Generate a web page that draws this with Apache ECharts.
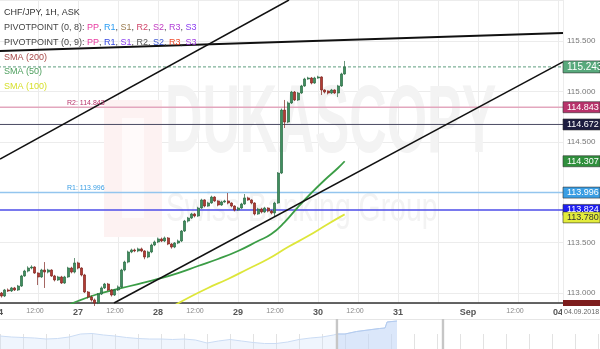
<!DOCTYPE html>
<html><head><meta charset="utf-8">
<script src="https://cdn.jsdelivr.net/npm/echarts@6/dist/echarts.min.js"></script>
<style>html,body{margin:0;padding:0;background:#fff}#c{width:600px;height:349px}</style>
</head><body><div id="c"></div>
<script>
// ---------- DATA ----------
// hourly candles, trading-hour index (0 = Fri 24 Aug 00:00, weekend removed)
const candleStartHour = 1;
// [open, close, low, high]
const candles = [
[113.000,112.970,112.955,113.010],[112.970,113.030,112.960,113.040],[113.030,113.020,113.010,113.045],
[113.020,113.050,113.010,113.060],[113.050,113.030,113.020,113.060],[113.030,113.069,113.020,113.080],
[113.069,113.169,113.060,113.180],[113.169,113.218,113.160,113.230],[113.218,113.248,113.205,113.265],
[113.248,113.258,113.235,113.275],[113.258,113.198,113.190,113.265],[113.198,113.159,113.079,113.205],
[113.159,113.228,113.150,113.240],[113.228,113.208,113.050,113.307],[113.208,113.228,113.195,113.240],
[113.228,113.169,113.160,113.235],[113.169,113.129,113.115,113.180],[113.129,113.159,113.120,113.170],
[113.159,113.099,113.090,113.170],[113.099,113.159,113.090,113.170],[113.159,113.248,113.150,113.260],
[113.248,113.208,113.195,113.260],[113.208,113.298,113.195,113.347],[113.298,113.248,113.235,113.310],
[113.248,113.179,113.165,113.255],[113.179,113.010,113.000,113.190],[113.010,112.960,112.945,113.020],
[112.960,112.931,112.915,112.975],[112.931,112.901,112.871,112.945],[112.901,112.990,112.890,113.000],
[112.990,113.050,112.980,113.065],[113.050,113.089,113.040,113.100],[113.089,113.030,113.020,113.100],
[113.030,112.980,112.965,113.040],[112.980,113.030,112.970,113.040],[113.030,113.060,113.020,113.075],
[113.060,113.228,113.050,113.240],[113.228,113.307,113.215,113.320],[113.307,113.407,113.295,113.420],
[113.407,113.427,113.395,113.440],[113.427,113.417,113.405,113.440],[113.417,113.437,113.405,113.450],
[113.437,113.417,113.405,113.450],[113.417,113.357,113.335,113.425],[113.357,113.407,113.345,113.420],
[113.407,113.476,113.395,113.490],[113.476,113.506,113.465,113.520],[113.506,113.536,113.495,113.550],
[113.536,113.516,113.505,113.550],[113.516,113.546,113.505,113.560],[113.546,113.486,113.475,113.555],
[113.486,113.456,113.440,113.495],[113.456,113.496,113.445,113.505],[113.496,113.516,113.485,113.530],
[113.516,113.615,113.505,113.625],[113.615,113.714,113.605,113.725],[113.714,113.744,113.700,113.755],
[113.744,113.784,113.735,113.795],[113.784,113.764,113.750,113.795],[113.764,113.843,113.755,113.855],
[113.843,113.923,113.835,113.935],[113.923,113.863,113.850,113.930],[113.863,113.893,113.855,113.905],
[113.893,113.952,113.885,113.965],[113.952,113.913,113.905,113.960],[113.913,113.873,113.860,113.920],
[113.873,113.903,113.865,113.915],[113.903,113.913,113.895,113.925],[113.913,113.893,113.880,113.992],
[113.893,113.863,113.850,113.900],[113.863,113.823,113.810,113.870],[113.823,113.843,113.815,113.855],
[113.843,113.883,113.835,113.895],[113.883,113.943,113.875,113.982],[113.943,113.923,113.915,113.955],
[113.923,113.893,113.880,113.930],[113.893,113.784,113.770,113.900],[113.784,113.833,113.775,113.845],
[113.833,113.804,113.790,113.845],[113.804,113.843,113.795,113.855],[113.843,113.813,113.800,113.850],
[113.813,113.794,113.780,113.825],[113.794,113.893,113.754,113.905],[113.893,114.190,113.885,114.200],
[114.190,114.815,114.180,114.830],[114.815,114.696,114.637,114.915],[114.696,114.885,114.685,114.900],
[114.885,114.994,114.875,115.005],[114.994,114.915,114.905,115.004],[114.915,114.984,114.905,114.995],
[114.984,115.054,114.975,115.065],[115.054,115.123,115.045,115.135],[115.123,115.133,115.115,115.145],
[115.133,115.083,115.070,115.143],[115.083,115.133,115.075,115.145],[115.133,115.143,115.125,115.155],
[115.143,115.014,114.964,115.150],[115.014,114.994,114.980,115.020],[115.004,114.984,114.970,115.010],
[114.984,115.014,114.975,115.025],[115.014,114.984,114.975,115.020],[114.984,115.054,114.944,115.065],
[115.054,115.173,115.045,115.185],[115.173,115.243,115.165,115.302]
];
// moving averages [hour, value]
const sma50 = [[20,112.860],[24,112.921],[30,112.990],[36,113.040],[42,113.089],[48,113.139],[54,113.198],
  [60,113.268],[66,113.337],[72,113.417],[78,113.516],[82,113.585],[86,113.704],[90,113.853],[94,113.992],
  [98,114.121],[102,114.240],[104,114.307]];
const sma100 = [[52,112.860],[57,112.950],[63,113.050],[69,113.139],[75,113.238],[81,113.337],[87,113.456],
  [93,113.565],[99,113.685],[104,113.780]];
const sma200Last = 112.880;
// drawn trend lines
const trendA = [[0.6,114.329],[87.3,115.907]];
const trendB = [[0,115.401],[169.5,115.579]];
const trendC = [[34.8,112.901],[169.5,115.292]];
// pivot levels
const levelValues = [114.843, 114.672, 113.996, 113.824];
const levelNames  = ['R2', '', 'R1', ''];
const levelLineColors = ['#e3a7be', '#4a4a62', '#93c5ee', '#4c4ce8'];
const levelBoxColors  = ['#b8336b', '#1d1d40', '#3a9ee4', '#1e1ef0'];
// x axis ticks
const xTicks = [0,12,24,36,48,60,72,84,96,108,120,141,156,168];
const xTickLabels = ['24','12:00','27','12:00','28','12:00','29','12:00','30','12:00','31','Sep','12:00','04'];
const dateLabel = '04.09.2018';
// navigator history [position, value]
const navData = [[0,113.233],[0.5,113.1],[1,113.033],[1.5,112.967],[2,112.833],[2.5,112.9],[3,113.1],[3.5,113.5],
  [4,113.567],[4.5,113.367],[5,113.233],[5.5,113.033],[6,112.9],[6.5,112.833],[7,112.833],[7.5,112.767],[8,112.833],
  [8.5,112.7],[9,112.3],[9.5,112.567],[10,112.767],[10.5,112.567],[11,112.367],[11.5,112.233],[12,112.233],
  [12.5,112.433],[13,112.767],[13.5,112.967],[14,113.1],[14.5,113.367],[14.65,113.5],[15,113.5],[15.5,113.833],
  [16,114.033],[16.5,114.233],[16.74,114.3],[16.83,115.1],[17.26,115.233]];
const navWindow = [14.65, 19.26];

// ---------- CHART ----------
const FONT = 'Liberation Sans, Arial, sans-serif';
const chart = echarts.init(document.getElementById('c'), null, {width:600, height:349});
const candleData = candles.map((c, i) => [candleStartHour + i, c[0], c[1], c[2], c[3]]);
const lastClose = candles[candles.length - 1][1];
const xMax = 169.5;

function hLine(v, color, width, type) {
  return {type:'line', xAxisIndex:0, yAxisIndex:0, data:[[0, v],[xMax, v]], symbol:'none', silent:true,
    lineStyle:{color:color, width:width, type:type || 'solid'}, z:3};
}
function tLine(d, width) {
  return {type:'line', xAxisIndex:0, yAxisIndex:0, data:d, symbol:'none', silent:true,
    lineStyle:{color:'#111', width:width}, z:6};
}

const series = [];
levelValues.forEach((v, i) => series.push(hLine(v, levelLineColors[i], i === 1 ? 1 : 1.5)));
series.push(hLine(lastClose, '#5f9f7f', 1, [3, 2]));
series.push({type:'candlestick', xAxisIndex:0, yAxisIndex:0, data:candleData, encode:{x:0, y:[1,2,3,4]},
  barWidth:2.5, z:5,
  itemStyle:{color:'#3f8f5f', color0:'#b23b33', borderColor:'#2b6a43', borderColor0:'#7e2520', borderWidth:0.7}});
series.push({type:'line', data:sma50, symbol:'none', smooth:true, lineStyle:{color:'#3b9d46', width:1.8}, z:4});
series.push({type:'line', data:sma100, symbol:'none', smooth:true, lineStyle:{color:'#dde63a', width:1.8}, z:4});
series.push(tLine(trendA, 1.5), tLine(trendB, 2), tLine(trendC, 1.5));
series.push({type:'line', xAxisIndex:1, yAxisIndex:1, data:navData, symbol:'none', silent:true,
  lineStyle:{color:'#cbdcf4', width:1}, areaStyle:{color:'rgba(205,222,248,0.45)'}, z:2});
series.push({type:'line', xAxisIndex:1, yAxisIndex:1, data:navData.filter(d => d[0] >= navWindow[0]), symbol:'none', silent:true,
  lineStyle:{color:'#b3cbef', width:1}, areaStyle:{color:'rgba(190,212,246,0.6)'}, z:3});

const option = {
  animation:false,
  backgroundColor:'#fff',
  grid:[{left:-2, right:37, top:0, bottom:46, outerBoundsMode:'none', containLabel:false},
        {left:0, right:0, top:319, height:30, outerBoundsMode:'none', containLabel:false}],
  xAxis:[
    {type:'value', gridIndex:0, min:0, max:xMax, interval:12,
     axisLine:{show:true, onZero:false, lineStyle:{color:'#333', width:1.5}},
     axisTick:{show:false},
     splitLine:{show:true, lineStyle:{color:'#ececec', width:1}},
     axisLabel:{show:true, margin:5, customValues:xTicks, showMinLabel:true, showMaxLabel:true,
       formatter:function(v){ const i = xTicks.indexOf(v); if (i < 0) return ''; const t = xTickLabels[i];
         return t === '12:00' ? '{h|' + t + '}' : '{d|' + t + '}'; },
       rich:{d:{fontFamily:FONT, fontWeight:'bold', fontSize:9, color:'#555'},
             h:{fontFamily:FONT, fontSize:7, color:'#888', padding:[0,6,0,0]}}}},
    {type:'value', gridIndex:1, min:0, max:600/23, interval:1,
     axisLine:{show:false}, axisLabel:{show:false}, splitLine:{show:false},
     axisTick:{show:true, inside:true, length:15, lineStyle:{color:'#e2e2e2'}}}
  ],
  yAxis:[
    {type:'value', gridIndex:0, position:'right', min:112.9008, max:115.9067, splitNumber:6,
     axisLine:{show:true, lineStyle:{color:'#999', width:2}}, axisTick:{show:false},
     splitLine:{show:true, lineStyle:{color:'#ececec', width:1}},
     axisLabel:{margin:4, fontSize:8, fontFamily:FONT, color:'#777', showMinLabel:false, showMaxLabel:false,
       formatter:v => v.toFixed(3)}},
    {type:'value', gridIndex:1, min:111.5, max:115.5, show:false}
  ],
  series:series
};
chart.setOption(option);

// ---------- OVERLAYS ----------
const px = (x, v) => chart.convertToPixel({gridIndex:0}, [x, v]);
const pxN = (x, v) => chart.convertToPixel({gridIndex:1}, [x, v]);
const g = [];
// watermark
g.push({type:'rect', shape:{x:104, y:100, width:58, height:137}, style:{fill:'#fdf2f2'}, z:0, silent:true});
g.push({type:'rect', shape:{x:122, y:118, width:22, height:100}, style:{fill:'#fffafa'}, z:0, silent:true});
g.push({type:'text', x:165, y:78, scaleX:0.54, z:0, silent:true,
  style:{text:'DUKASCOPY', font:'bold 96px ' + FONT, fill:'#f3f3f3', verticalAlign:'top'}});
g.push({type:'text', x:166, y:190, scaleX:0.71, z:0, silent:true,
  style:{text:'Swiss Banking Group', font:'40px ' + FONT, fill:'#f3f3f3', verticalAlign:'top'}});
// legend
g.push({type:'text', x:4, y:8, z:60, style:{text:'CHF/JPY, 1H, ASK', font:'9px ' + FONT, fill:'#333', verticalAlign:'top'}});
const richCols = {k:'#444', a:'#e83aa0', b:'#2a9df4', c:'#9a7b4f', d:'#d0456a', e:'#c23bc2', f:'#b040d8', h:'#8a3cf0',
                  i:'#3548e0', j:'#555555', l:'#3a55d0', m:'#f04a2a', n:'#a03ce0'};
const rich = {}; Object.keys(richCols).forEach(k => rich[k] = {fill:richCols[k], font:'9px ' + FONT});
g.push({type:'text', x:4, y:23, z:60, style:{rich:rich, font:'9px ' + FONT, verticalAlign:'top',
  text:'{k|PIVOTPOINT (0, 8): }{a|PP}{k|, }{b|R1}{k|, }{c|S1}{k|, }{d|R2}{k|, }{e|S2}{k|, }{f|R3}{k|, }{h|S3}'}});
g.push({type:'text', x:4, y:38, z:60, style:{rich:rich, font:'9px ' + FONT, verticalAlign:'top',
  text:'{k|PIVOTPOINT (0, 9): }{a|PP}{k|, }{i|R1}{k|, }{h|S1}{k|, }{j|R2}{k|, }{l|S2}{k|, }{m|R3}{k|, }{n|S3}'}});
g.push({type:'text', x:4, y:53, z:60, style:{text:'SMA (200)', font:'9px ' + FONT, fill:'#a84a4a', verticalAlign:'top'}});
g.push({type:'text', x:4, y:67, z:60, style:{text:'SMA (50)', font:'9px ' + FONT, fill:'#4c9e5c', verticalAlign:'top'}});
g.push({type:'text', x:4, y:82, z:60, style:{text:'SMA (100)', font:'9px ' + FONT, fill:'#d6df2a', verticalAlign:'top'}});
// level text on the left
levelValues.forEach((v, i) => {
  if (!levelNames[i]) return;
  const p = px(0, v);
  g.push({type:'text', x:67, y:p[1] - 1, z:60, style:{text:levelNames[i] + ': ' + v.toFixed(3), font:'7px ' + FONT,
    fill:levelBoxColors[i], verticalAlign:'bottom'}});
});
// right price boxes
const axisX = px(xMax, lastClose)[0];
function box(v, bg, fg, fs, dy) {
  const y = px(xMax, v)[1] + (dy || 0);
  const h = fs + 2;
  g.push({type:'rect', z:70, shape:{x:axisX, y:y - h / 2, width:600 - axisX, height:h}, style:{fill:bg, stroke:'#333', lineWidth:0.6}});
  g.push({type:'text', z:71, x:axisX + 4, y:y, style:{text:v.toFixed(3), font:fs + 'px ' + FONT, fill:fg, verticalAlign:'middle'}});
}
levelValues.forEach((v, i) => box(v, levelBoxColors[i], '#fff', 9));
box(sma50[sma50.length - 1][1], '#2f8f3c', '#fff', 9);
box(sma100[sma100.length - 1][1], '#e3ec3c', '#333', 9, 3);
box(lastClose, '#58a97c', '#fff', 10);
// SMA200 marker (mostly below plot)
const yb = px(xMax, sma200Last)[1];
g.push({type:'rect', z:70, shape:{x:axisX, y:yb - 5, width:600 - axisX, height:Math.max(0, 306 - (yb - 5))}, style:{fill:'#7d1d1d'}});
// date box
g.push({type:'rect', z:72, shape:{x:axisX - 1, y:306, width:600 - axisX + 1, height:12}, style:{fill:'#fff'}});
g.push({type:'text', z:73, x:axisX + 1, y:312, style:{text:dateLabel, font:'7px ' + FONT, fill:'#666', verticalAlign:'middle'}});
// navigator frame
g.push({type:'line', z:1, shape:{x1:0, y1:319.5, x2:600, y2:319.5}, style:{stroke:'#e6e6e6', lineWidth:1}});
navWindow.forEach(w => {
  const p = pxN(w, 113);
  g.push({type:'rect', z:10, shape:{x:p[0] - 1.2, y:319, width:2.4, height:30}, style:{fill:'#c6c6c6'}});
});
chart.setOption({graphic:g});
</script>
</body></html>
